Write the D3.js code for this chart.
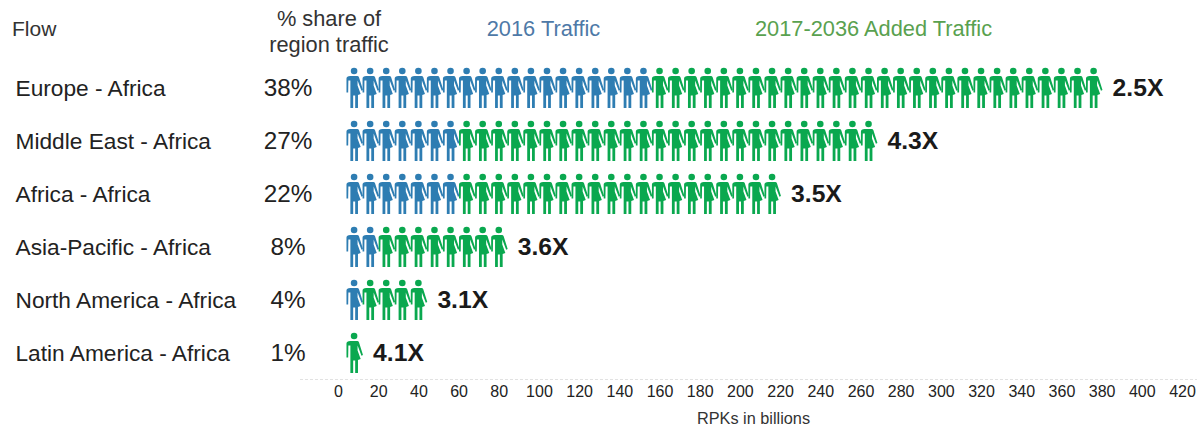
<!DOCTYPE html>
<html>
<head>
<meta charset="utf-8">
<script src="https://cdn.jsdelivr.net/npm/d3@7"></script>
<style>
  html, body { margin: 0; padding: 0; background: #fff; }
  svg { display: block; }
  text { font-family: "Liberation Sans", Arial, sans-serif; }
</style>
</head>
<body>
<svg id="chart" width="1197" height="427"></svg>
<script>
const flows = ["Europe - Africa", "Middle East - Africa", "Africa - Africa", "Asia-Pacific - Africa", "North America - Africa", "Latin America - Africa"];
const shares = ["38%", "27%", "22%", "8%", "4%", "1%"];
const icons2016 = [19, 7, 7, 2, 1, 0];
const iconsAdded = [28, 26, 20, 8, 4, 1];
const multiples = ["2.5X", "4.3X", "3.5X", "3.6X", "3.1X", "4.1X"];
const xTicks = d3.range(0, 421, 20);
const rpkPerIcon = 8;   // one person = 8 billion RPKs

const BLUE = "#2e7db2", GREEN = "#0aa84f";

// single person glyph, origin at the top centre of the head
const PERSON = "M-3.8,9 L3.2,9 Q4.4,9 4.9,10.2 L8.9,23 L7.4,23.7 L3.5,13.5 L3.5,18.5 L6.6,27 L3.9,28 L3.9,41 L1.1,41 L1.1,28.5 L-0.9,28.5 L-0.9,41 L-3.7,41 " +
  "L-3.7,13.5 L-5.7,13.5 L-5.9,25.5 L-7.6,25.5 L-7.6,11.6 Q-7.6,9 -3.8,9 Z";

const svg = d3.select("#chart");
const x = d3.scaleLinear().domain([0, 420]).range([338, 1182]);
const y = d3.scalePoint().domain(flows).range([67, 332]);   // top of each row's icons

// Headers
function label(px, py, txt, size, fill, anchor, weight) {
  return svg.append("text").attr("x", px).attr("y", py).attr("font-size", size)
    .attr("fill", fill).attr("text-anchor", anchor || "start")
    .attr("font-weight", weight || 400).text(txt);
}
label(12, 36, "Flow", 21, "#333");
label(329, 25.5, "% share of", 21.8, "#333", "middle");
label(329, 51.5, "region traffic", 21.8, "#333", "middle");
label(543.5, 36, "2016 Traffic", 21.8, "#4e79a7", "middle");
label(873.5, 36, "2017-2036 Added Traffic", 21.8, "#59a14f", "middle");

// Rows
const rows = svg.selectAll("g.row").data(flows).enter().append("g")
  .attr("class", "row")
  .attr("transform", d => `translate(0,${y(d)})`);

rows.append("text").attr("x", 15.5).attr("y", 28.5).attr("font-size", 22.7).attr("fill", "#222")
  .text(d => d);
rows.append("text").attr("x", 288).attr("y", 28.5).attr("font-size", 24.3).attr("fill", "#222")
  .attr("text-anchor", "middle").text((d, i) => shares[i]);

rows.each(function (d, i) {
  const total = icons2016[i] + iconsAdded[i];
  const people = d3.range(total).map(k => ({ k, blue: k < icons2016[i] }));
  d3.select(this).selectAll("g.person").data(people).enter().append("g")
    .attr("class", "person")
    .attr("transform", p => `translate(${x((p.k + 1) * rpkPerIcon)},0)`)
    .attr("fill", p => p.blue ? BLUE : GREEN)
    .call(g => {
      g.append("circle").attr("cy", 4).attr("r", 3.3);
      g.append("path").attr("d", PERSON);
    });
  d3.select(this).append("text")
    .attr("x", x(total * rpkPerIcon) + 19).attr("y", 28.5)
    .attr("font-size", 24.7).attr("font-weight", 700).attr("fill", "#1a1a1a")
    .text(multiples[i]);
});

// Axis
const axis = svg.append("g").attr("transform", "translate(0,379)")
  .call(d3.axisBottom(x).tickValues(xTicks).tickSize(0).tickPadding(7));
axis.select(".domain").remove();
axis.selectAll("text").attr("font-size", 16).attr("fill", "#222")
  .attr("font-family", '"Liberation Sans", Arial, sans-serif');
svg.append("line").attr("x1", 300).attr("x2", 1197).attr("y1", 379.5).attr("y2", 379.5)
  .attr("stroke", "#e2e2e2").attr("stroke-dasharray", "3,2");
label(753.5, 424, "RPKs in billions", 16.3, "#333", "middle");
</script>
</body>
</html>
